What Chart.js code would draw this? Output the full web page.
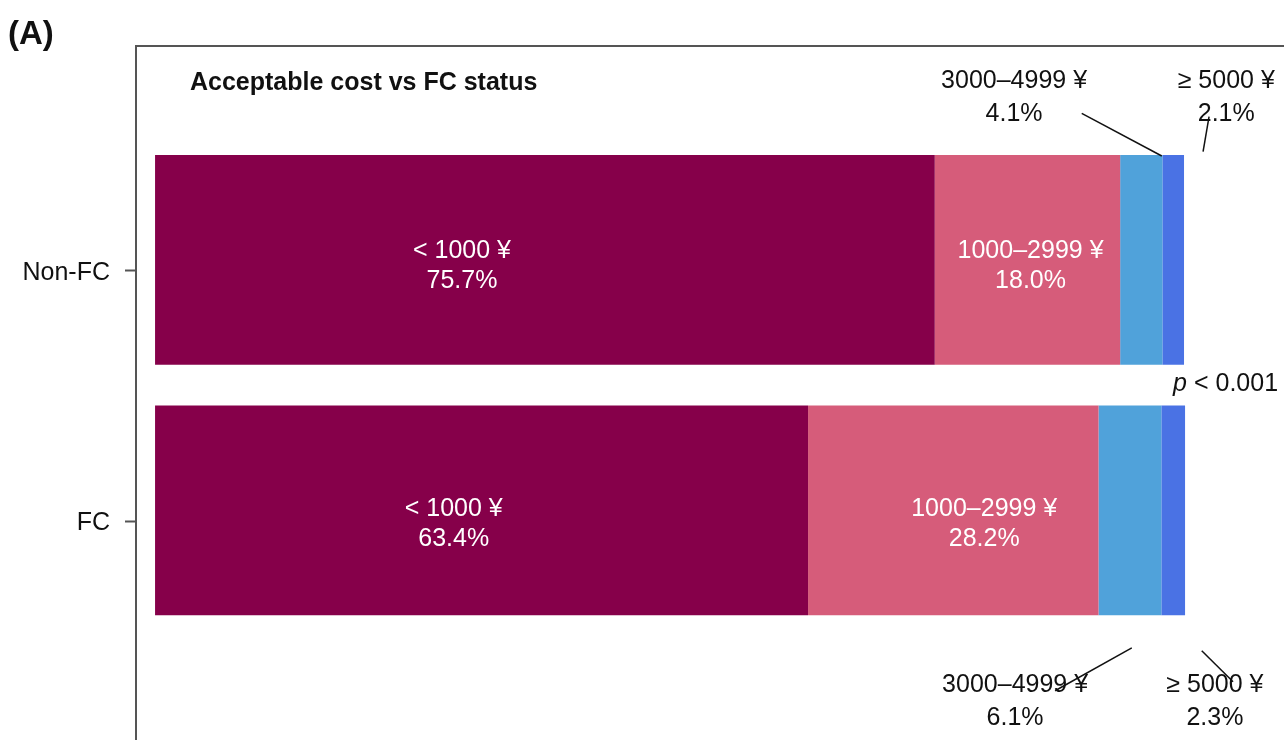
<!DOCTYPE html>
<html>
<head>
<meta charset="utf-8">
<script src="https://cdn.jsdelivr.net/npm/chart.js@4/dist/chart.umd.min.js"></script>
<style>
  html, body { margin: 0; padding: 0; background: #fff; overflow: hidden; }
  #costChart { display: block; }
</style>
</head>
<body>
<canvas id="costChart" width="1330" height="800"></canvas>
<script>
// FC status groups, top to bottom
const groups = ["Non-FC", "FC"];

// acceptable cost brackets
const costLevels = ["< 1000 ¥", "1000–2999 ¥", "3000–4999 ¥", "≥ 5000 ¥"];

// share of respondents (%) per bracket, one value per group
const under1000 = [75.7, 63.4];
const from1000 = [18.0, 28.2];
const from3000 = [4.1, 6.1];
const over5000 = [2.1, 2.3];

const shares = [under1000, from1000, from3000, over5000];
const levelColors = ["#86004A", "#D65C7A", "#50A2DA", "#4A72E4"];

const pLabel = "0.001";
const titleText = "Acceptable cost vs FC status";
const panelTag = "(A)";

const FONT = '"Liberation Sans", Arial, sans-serif';
// canvas "middle" sits a little above the digits' visual centre
const TXT_DY = 2;

const datasets = costLevels.map((level, k) => ({
  label: level,
  data: groups.map((g, i) => ({ x: shares[k][i], y: i + 1 })),
  backgroundColor: levelColors[k],
  borderWidth: 0,
  stack: "cost",
  categoryPercentage: 1,
  barPercentage: 0.838,
}));

// text + leader lines drawn on top of the bars
const labelPlugin = {
  id: "costLabels",
  afterDatasetsDraw(chart, args, opts) {
    const ctx = chart.ctx;
    const xs = chart.scales.x;
    const ys = chart.scales.y;
    const area = chart.chartArea;
    const px = (v) => xs.getPixelForValue(v);
    const py = (v) => ys.getPixelForValue(v) + TXT_DY;

    ctx.save();

    // frame round the plot panel
    ctx.strokeStyle = "#555";
    ctx.lineWidth = 2;
    ctx.strokeRect(area.left, area.top, area.right - area.left, area.bottom - area.top);

    // panel letter and title
    ctx.fillStyle = "#111";
    ctx.textBaseline = "middle";
    ctx.textAlign = "left";
    ctx.font = "bold 33px " + FONT;
    ctx.fillText(panelTag, 8, 35);
    ctx.font = "bold 25px " + FONT;
    ctx.fillText(titleText, area.left + 54, area.top + 37);

    ctx.font = "25px " + FONT;
    ctx.textAlign = "center";

    // labels inside the two wide segments
    ctx.fillStyle = "#fff";
    opts.inner.forEach((a) => {
      const x = px(a.x);
      const y = py(a.y);
      ctx.fillText(costLevels[a.seg], x, y - 15);
      ctx.fillText(shares[a.seg][a.row].toFixed(1) + "%", x, y + 15);
    });

    // labels outside the two narrow segments
    ctx.fillStyle = "#111";
    opts.outer.forEach((a) => {
      const x = px(a.x);
      const y = py(a.y);
      ctx.fillText(costLevels[a.seg], x, y - 16.5);
      ctx.fillText(shares[a.seg][a.row].toFixed(1) + "%", x, y + 16.5);
    });

    ctx.strokeStyle = "#111";
    ctx.lineWidth = 1.5;
    opts.leaders.forEach((l) => {
      ctx.beginPath();
      ctx.moveTo(px(l[0]), ys.getPixelForValue(l[1]));
      ctx.lineTo(px(l[2]), ys.getPixelForValue(l[3]));
      ctx.stroke();
    });

    // p value, italic p
    const rest = " < " + pLabel;
    ctx.textAlign = "left";
    ctx.font = "25px " + FONT;
    const wRest = ctx.measureText(rest).width;
    ctx.font = "italic 25px " + FONT;
    const wP = ctx.measureText("p").width;
    const right = px(opts.pValue.x);
    const yp = py(opts.pValue.y);
    ctx.fillText("p", right - wRest - wP, yp);
    ctx.font = "25px " + FONT;
    ctx.fillText(rest, right - wRest, yp);

    ctx.restore();
  },
};

new Chart(document.getElementById("costChart"), {
  type: "bar",
  data: { datasets: datasets },
  plugins: [labelPlugin],
  options: {
    indexAxis: "y",
    responsive: false,
    animation: false,
    devicePixelRatio: 1,
    layout: { padding: { left: 0, top: 46, right: 19.8, bottom: 39.1 } },
    scales: {
      x: {
        type: "linear",
        stacked: true,
        min: -1.85,
        max: 112.15,
        display: false,
      },
      y: {
        type: "linear",
        reverse: true,
        offset: false,
        min: 0.146,
        max: 3.0,
        afterBuildTicks: (scale) => {
          scale.ticks = groups.map((g, i) => ({ value: i + 1.044 }));
        },
        afterFit: (scale) => {
          scale.width = 136;
        },
        border: { display: false },
        grid: {
          offset: false,
          drawOnChartArea: false,
          drawTicks: true,
          tickLength: 11,
          tickColor: "#555",
          tickWidth: 2,
        },
        ticks: {
          padding: 15,
          labelOffset: TXT_DY,
          color: "#111",
          font: { family: FONT, size: 25 },
          callback: (value, index) => groups[index],
        },
      },
    },
    plugins: {
      legend: { display: false },
      tooltip: { enabled: false },
      costLabels: {
        inner: [
          { row: 0, seg: 0, x: 29.8, y: 1.016 },
          { row: 0, seg: 1, x: 85.0, y: 1.016 },
          { row: 1, seg: 0, x: 29.0, y: 2.046 },
          { row: 1, seg: 1, x: 80.5, y: 2.046 },
        ],
        outer: [
          { row: 0, seg: 2, x: 83.4, y: 0.344 },
          { row: 0, seg: 3, x: 104.0, y: 0.344 },
          { row: 1, seg: 2, x: 83.5, y: 2.755 },
          { row: 1, seg: 3, x: 102.9, y: 2.755 },
        ],
        leaders: [
          [89.97, 0.415, 97.74, 0.585],
          [102.33, 0.428, 101.75, 0.568],
          [94.83, 2.549, 87.38, 2.72],
          [101.62, 2.56, 104.66, 2.684],
        ],
        pValue: { x: 109.03, y: 1.487 },
      },
    },
  },
});
</script>
</body>
</html>
